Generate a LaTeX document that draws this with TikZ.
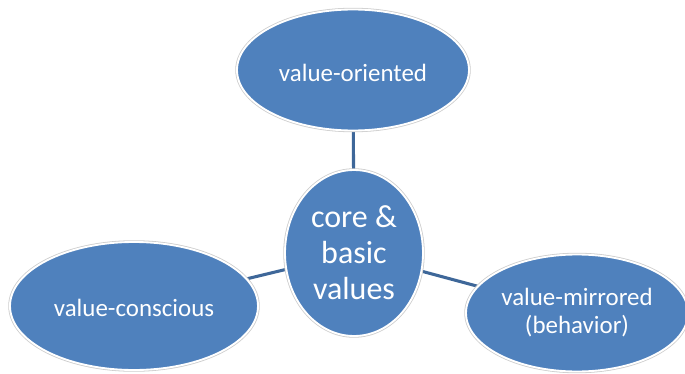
\documentclass[tikz,border=0pt]{standalone}
\usepackage{fontspec}
\setmainfont{Carlito}
\usetikzlibrary{shapes.geometric,backgrounds}
\definecolor{ovfill}{RGB}{79,129,189}
\definecolor{linkc}{RGB}{62,103,153}
\definecolor{ringc}{RGB}{205,205,205}
\tikzset{
  oval/.style={ellipse, fill=ovfill, draw=white, line width=1.4pt, inner sep=0pt,
    preaction={draw=ringc, line width=2.6pt},
    text=white, align=center, font=\fontsize{18.7}{21}\selectfont},
  link/.style={draw=linkc, line width=2.3pt}
}
\begin{document}
\begin{tikzpicture}[x=0.75pt,y=-0.75pt]
\useasboundingbox (0,0) rectangle (685,374);
\node[oval, minimum width=232*0.75pt, minimum height=121*0.75pt] (top) at (353,70) {\raisebox{-9pt}[0pt][0pt]{value-oriented}};
\node[oval, minimum width=138*0.75pt, minimum height=166*0.75pt, font=\fontsize{24}{27}\selectfont] (core) at (354,253) {core \&\\basic\\values};
\node[oval, minimum width=248*0.75pt, minimum height=128*0.75pt] (left) at (134,306) {\raisebox{-8pt}[0pt][0pt]{value-conscious}};
\node[oval, minimum width=222*0.75pt, minimum height=117*0.75pt] (right) at (577,313) {value-mirrored\\(behavior)};
\begin{scope}[on background layer]
\draw[link] (top.center) -- (core.center);
\draw[link] (left.center) -- (core.center);
\draw[link] (right.center) -- (core.center);
\end{scope}
\end{tikzpicture}
\end{document}
